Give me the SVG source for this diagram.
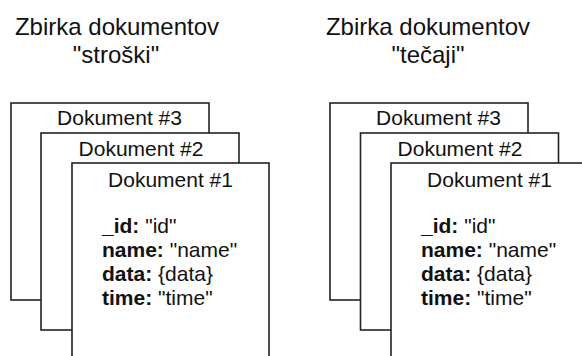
<svg xmlns="http://www.w3.org/2000/svg" width="582" height="356" viewBox="0 0 582 356">
<style>
.box{fill:#fff;stroke:#222;stroke-width:1.6}
.t{font-family:"Liberation Sans",Arial,sans-serif;fill:#111}
.title{font-size:24px;text-anchor:middle}
.doc{font-size:21px;text-anchor:middle}
.f{font-size:21px}
.b{font-weight:bold}
</style>
<rect width="582" height="356" fill="#fff"/>
<g id="collection-stroski">
<text class="t title" x="117" y="35">Zbirka dokumentov</text>
<text class="t title" x="116" y="63">"stroški"</text>
<g id="doc3-left"><rect class="box" x="11" y="103" width="198" height="197"/><text class="t doc" x="119.5" y="125">Dokument #3</text></g>
<g id="doc2-left"><rect class="box" x="41" y="133" width="198" height="197"/><text class="t doc" x="141" y="155.5">Dokument #2</text></g>
<g id="doc1-left"><rect class="box" x="72" y="163" width="197" height="200"/><text class="t doc" x="170.5" y="186.5">Dokument #1</text>
<text class="t f" x="102" y="233"><tspan class="b">_id:</tspan> "id"</text>
<text class="t f" x="102" y="257"><tspan class="b">name:</tspan> "name"</text>
<text class="t f" x="102" y="281"><tspan class="b">data:</tspan> {data}</text>
<text class="t f" x="102" y="305"><tspan class="b">time:</tspan> "time"</text>
</g>
</g>
<g id="collection-tecaji">
<text class="t title" x="428" y="35">Zbirka dokumentov</text>
<text class="t title" x="428" y="63">"tečaji"</text>
<g id="doc3-right"><rect class="box" x="330" y="103" width="198" height="197"/><text class="t doc" x="438.5" y="125">Dokument #3</text></g>
<g id="doc2-right"><rect class="box" x="360.5" y="133" width="198" height="197"/><text class="t doc" x="460" y="155.5">Dokument #2</text></g>
<g id="doc1-right"><rect class="box" x="391" y="163" width="200" height="200"/><text class="t doc" x="489.5" y="186.5">Dokument #1</text>
<text class="t f" x="421" y="233"><tspan class="b">_id:</tspan> "id"</text>
<text class="t f" x="421" y="257"><tspan class="b">name:</tspan> "name"</text>
<text class="t f" x="421" y="281"><tspan class="b">data:</tspan> {data}</text>
<text class="t f" x="421" y="305"><tspan class="b">time:</tspan> "time"</text>
</g>
</g>
<g id="connectors"/>
</svg>
